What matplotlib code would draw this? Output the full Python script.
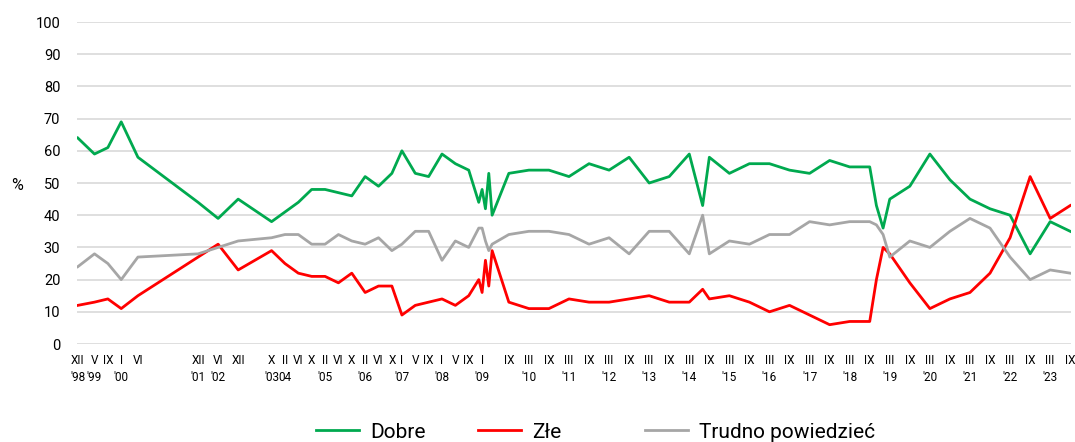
import matplotlib

matplotlib.use("Agg")
import matplotlib.pyplot as plt

plt.rcParams["font.family"] = ["Roboto", "DejaVu Sans"]

# survey dates (year, month) and answer shares in %
dates = [
    (1998, 12), (1999, 5), (1999, 9), (2000, 1), (2000, 6), (2001, 12),
    (2002, 6), (2002, 12), (2003, 10), (2004, 2), (2004, 6), (2004, 10),
    (2005, 2), (2005, 6), (2005, 10), (2006, 2), (2006, 6), (2006, 10),
    (2007, 1), (2007, 5), (2007, 9), (2008, 1), (2008, 5), (2008, 9),
    (2008, 12), (2009, 1), (2009, 2), (2009, 3), (2009, 4), (2009, 9),
    (2010, 3), (2010, 9), (2011, 3), (2011, 9), (2012, 3), (2012, 9),
    (2013, 3), (2013, 9), (2014, 3), (2014, 7), (2014, 9), (2015, 3),
    (2015, 9), (2016, 3), (2016, 9), (2017, 3), (2017, 9), (2018, 3),
    (2018, 9), (2018, 11), (2019, 1), (2019, 3), (2019, 9), (2020, 3),
    (2020, 9), (2021, 3), (2021, 9), (2022, 3), (2022, 9), (2023, 3),
    (2023, 9),
]
dobre = [
    64, 59, 61, 69, 58, 44, 39, 45, 38, 41, 44, 48, 48, 47, 46, 52, 49, 53,
    60, 53, 52, 59, 56, 54, 44, 48, 42, 53, 40, 53, 54, 54, 52, 56, 54, 58,
    50, 52, 59, 43, 58, 53, 56, 56, 54, 53, 57, 55, 55, 43, 36, 45, 49, 59,
    51, 45, 42, 40, 28, 38, 35,
]
zle = [
    12, 13, 14, 11, 15, 27, 31, 23, 29, 25, 22, 21, 21, 19, 22, 16, 18, 18,
    9, 12, 13, 14, 12, 15, 20, 16, 26, 18, 29, 13, 11, 11, 14, 13, 13, 14,
    15, 13, 13, 17, 14, 15, 13, 10, 12, 9, 6, 7, 7, 20, 30, 28, 19, 11,
    14, 16, 22, 33, 52, 39, 43,
]
trudno = [
    24, 28, 25, 20, 27, 28, 30, 32, 33, 34, 34, 31, 31, 34, 32, 31, 33, 29,
    31, 35, 35, 26, 32, 30, 36, 36, 32, 29, 31, 34, 35, 35, 34, 31, 33, 28,
    35, 35, 28, 40, 28, 32, 31, 34, 34, 38, 37, 38, 38, 37, 34, 27, 32, 30,
    35, 39, 36, 27, 20, 23, 22,
]

# axis labels
tick_dates = [
    (1998, 12), (1999, 5), (1999, 9), (2000, 1), (2000, 6), (2001, 12),
    (2002, 6), (2002, 12), (2003, 10), (2004, 2), (2004, 6), (2004, 10),
    (2005, 2), (2005, 6), (2005, 10), (2006, 2), (2006, 6), (2006, 10),
    (2007, 1), (2007, 5), (2007, 9), (2008, 1), (2008, 5), (2008, 9),
    (2009, 1), (2009, 9),
] + [(y, m) for y in range(2010, 2024) for m in (3, 9)]
tick_labels = [
    "XII\n'98", "V\n'99", "IX", "I\n'00", "VI", "XII\n'01", "VI\n'02", "XII",
    "X\n'03", "II\n04", "VI", "X", "II\n'05", "VI", "X", "II\n'06", "VI", "X",
    "I\n'07", "V", "IX", "I\n'08", "V", "IX", "I\n'09", "IX",
] + [lab for y in range(2010, 2024) for lab in (f"III\n'{y % 100:02d}", "IX")]


def to_t(ym):
    return ym[0] + (ym[1] - 1) / 12


x = [to_t(d) for d in dates]
tx = [to_t(d) for d in tick_dates]

fig = plt.figure(figsize=(10.75, 4.42), dpi=100)
ax = fig.add_axes([0.0716, 0.2217, 0.9247, 0.7285])

l1, = ax.plot(x, dobre, color="#00a94f", lw=2, label="Dobre")
l2, = ax.plot(x, zle, color="#ff0000", lw=2, label="Złe")
l3, = ax.plot(x, trudno, color="#a6a6a6", lw=2, label="Trudno powiedzieć")

ax.set_ylim(0, 100)
ax.set_yticks(range(0, 101, 10))
ax.set_xlim(x[0] - 0.02, x[-1] + 0.02)
ax.set_xticks(tx)
ax.set_xticklabels(tick_labels, fontsize=8.5)
for lbl in ax.get_xticklabels():
    lbl.set_linespacing(1.4)
ax.tick_params(axis="x", length=0, pad=7, colors="black")
ax.tick_params(axis="y", length=0, pad=12, labelsize=10.5)
ax.yaxis.grid(True, color="#d9d9d9", lw=1.2)
ax.set_axisbelow(True)
for s in ax.spines.values():
    s.set_visible(False)

fig.text(17 / 1075, 1 - 185 / 442, "%", fontsize=11.5, ha="center", va="center")

# legend entries spaced like the original
for handle, x0 in [(l1, 316), (l2, 478), (l3, 645)]:
    fig.legend(
        handles=[handle],
        loc="center left",
        bbox_to_anchor=(x0 / 1075, 1 - 432 / 442),
        frameon=False,
        fontsize=15,
        handlelength=2.05,
        handletextpad=0.55,
        borderpad=0,
        borderaxespad=0,
    )

fig.savefig("out.png", dpi=100)
